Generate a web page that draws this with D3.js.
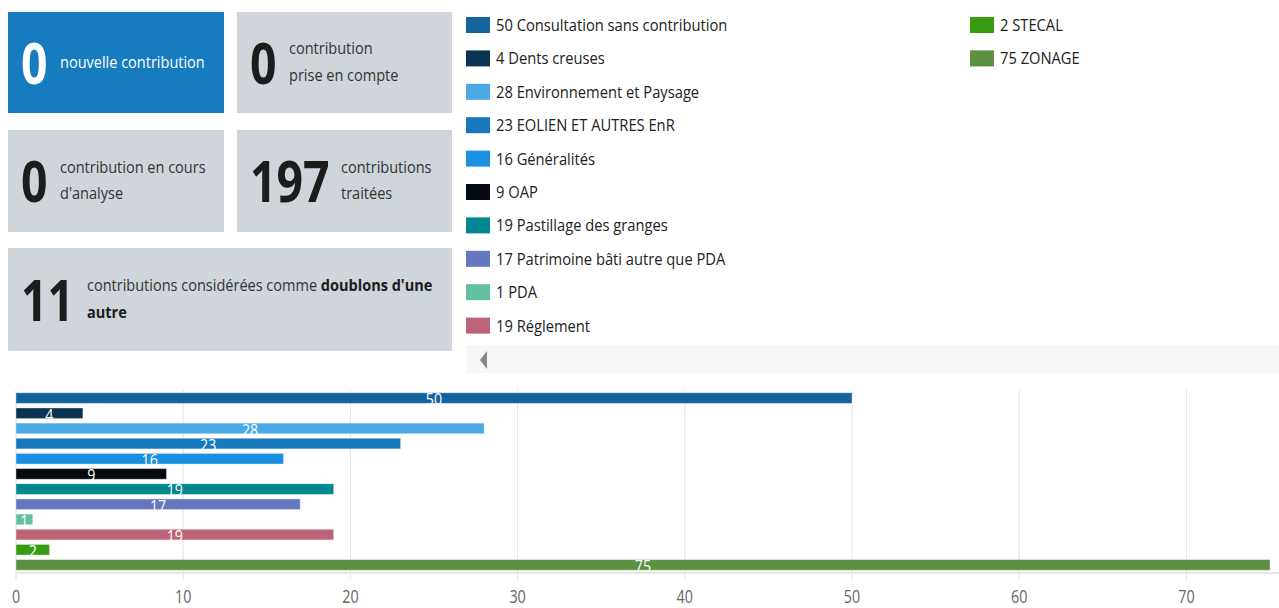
<!DOCTYPE html>
<html>
<head>
<meta charset="utf-8">
<script src="https://cdn.jsdelivr.net/npm/d3@7"></script>
<style>
  html, body { margin: 0; padding: 0; background: #fff; }
  svg { display: block; font-family: "Open Sans", sans-serif; }
</style>
</head>
<body>
<svg id="chart" width="1279" height="608"></svg>
<script>
// categories and values
const categories = ['Consultation sans contribution', 'Dents creuses', 'Environnement et Paysage',
  'EOLIEN ET AUTRES EnR', 'Généralités', 'OAP', 'Pastillage des granges',
  'Patrimoine bâti autre que PDA', 'PDA', 'Réglement', 'STECAL', 'ZONAGE'];
const values = [50, 4, 28, 23, 16, 9, 19, 17, 1, 19, 2, 75];
const colors = ['#13649c', '#0b3453', '#4ba9e6', '#1778be', '#1b8fe0', '#040a10',
  '#00878f', '#6478bf', '#62c0a2', '#bf6478', '#379c0f', '#5a9041'];
const ticks = [0, 10, 20, 30, 40, 50, 60, 70];

// summary cards
const cardValues = ['0', '0', '0', '197', '11'];
const cardLines = [
  [['nouvelle contribution']],
  [['contribution'], ['prise en compte']],
  [['contribution en cours'], ["d'analyse"]],
  [['contributions'], ['traitées']],
  [['contributions considérées comme ', 'doublons d\'une'], ['', 'autre']]
];

const svg = d3.select('#chart');

function label(parent, x, y, str, size, weight, fill, anchor, sx) {
  return parent.append('text')
    .attr('transform', `translate(${x},${y}) scale(${sx || 0.86},1)`)
    .attr('font-size', size)
    .attr('font-weight', weight || 400)
    .attr('fill', fill || '#333')
    .attr('text-anchor', anchor || 'start')
    .text(str);
}

// cards layout
const cardBoxes = [
  { x: 8, y: 12, w: 216, h: 101, bg: '#167bbf', fg: '#fff', tx: 60 },
  { x: 237, y: 12, w: 215, h: 101, bg: '#d0d5db', fg: '#222', tx: 289 },
  { x: 8, y: 130, w: 216, h: 102, bg: '#d0d5db', fg: '#222', tx: 60 },
  { x: 237, y: 130, w: 215, h: 102, bg: '#d0d5db', fg: '#222', tx: 341 },
  { x: 8, y: 248, w: 444, h: 103, bg: '#d0d5db', fg: '#222', tx: 87 }
];

const cards = svg.append('g').attr('class', 'cards');
cardBoxes.forEach((b, i) => {
  const g = cards.append('g');
  g.append('rect').attr('x', b.x).attr('y', b.y).attr('width', b.w).attr('height', b.h).attr('fill', b.bg);
  const cy = b.y + b.h / 2;
  const white = b.fg === '#fff';
  label(g, b.x + 13, cy + 21, cardValues[i], 58, 700, white ? '#fff' : '#1c1c1c', 'start', 0.8);
  const lines = cardLines[i];
  const lh = 26.5;
  const y0 = cy + 5 - (lines.length - 1) * lh / 2;
  lines.forEach((parts, j) => {
    const t = g.append('text')
      .attr('transform', `translate(${b.tx},${y0 + j * lh}) scale(0.88,1)`)
      .attr('font-size', 16.5)
      .attr('fill', white ? '#fff' : '#333');
    parts.forEach((p, k) => {
      if (!p) return;
      t.append('tspan')
        .attr('font-weight', k === 1 ? 700 : 400)
        .attr('fill', k === 1 ? '#1c1c1c' : null)
        .text(p);
    });
  });
});

// legend
const legend = svg.append('g').attr('class', 'legend');
categories.forEach((c, i) => {
  const col = i < 10 ? 0 : 1;
  const row = i < 10 ? i : i - 10;
  const lx = col === 0 ? 466 : 970;
  const ly = 25 + row * 33.4;
  legend.append('rect').attr('x', lx).attr('y', ly - 8).attr('width', 24).attr('height', 16)
    .attr('fill', colors[i]);
  label(legend, lx + 30, ly + 6, `${values[i]} ${c}`, 16, 400, '#222', 'start', 0.92);
});
// legend scroller
legend.append('rect').attr('x', 466).attr('y', 345).attr('width', 813).attr('height', 28).attr('fill', '#f7f7f7');
legend.append('path').attr('d', 'M487,351 L480,360 L487,369 Z').attr('fill', '#888');

// bar chart
const x = d3.scaleLinear().domain([0, 75]).range([16, 1270]);
const y = d3.scaleBand().domain(categories).range([390.5, 572.5]).paddingInner(0.3).paddingOuter(0.15);

const grid = svg.append('g').attr('class', 'grid');
grid.selectAll('line').data(ticks).join('line')
  .attr('x1', d => x(d)).attr('x2', d => x(d))
  .attr('y1', 390).attr('y2', 580)
  .attr('stroke', '#e3e3e3').attr('stroke-width', 1);
grid.append('line').attr('x1', 16).attr('x2', 1279).attr('y1', 573).attr('y2', 573)
  .attr('stroke', '#e6e6e6').attr('stroke-width', 2);

const axis = svg.append('g').attr('transform', 'translate(0,603)');
ticks.forEach(t => label(axis, x(t), 0, String(t), 17.5, 400, '#666', 'middle', 0.82));

const defs = svg.append('defs');
const bars = svg.append('g').attr('class', 'bars');
categories.forEach((c, i) => {
  const by = y(c), bw = y.bandwidth();
  bars.append('rect')
    .attr('x', x(0)).attr('y', by)
    .attr('width', x(values[i]) - x(0)).attr('height', bw)
    .attr('fill', colors[i])
    .attr('stroke', 'rgba(255,255,255,0.35)').attr('stroke-width', 1);
  defs.append('clipPath').attr('id', 'clip' + i)
    .append('rect').attr('x', 0).attr('y', by - 1).attr('width', 1279).attr('height', bw + 2);
  const lg = bars.append('g').attr('clip-path', `url(#clip${i})`);
  label(lg, (x(0) + x(values[i])) / 2, by + bw + 2, String(values[i]), 17, 400, '#fff', 'middle', 0.84);
});
</script>
</body>
</html>
